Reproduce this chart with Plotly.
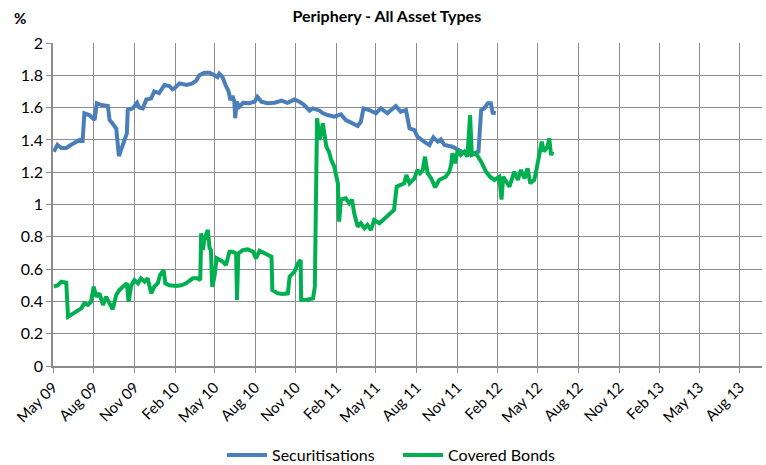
import plotly.graph_objects as go

# ---- data ----
sec_dates = ["2009-05-03","2009-05-09","2009-05-11","2009-05-20","2009-05-31","2009-06-11","2009-06-22","2009-06-30",
             "2009-07-07","2009-07-11","2009-07-22","2009-08-03","2009-08-08","2009-08-18","2009-09-02","2009-09-06",
             "2009-09-13","2009-09-21","2009-09-27","2009-10-02","2009-10-10","2009-10-15","2009-10-17","2009-10-28",
             "2009-11-07","2009-11-12","2009-11-20","2009-11-28","2009-12-09","2009-12-16","2009-12-27","2010-01-08",
             "2010-01-19","2010-01-26","2010-01-31","2010-02-11","2010-02-27","2010-03-12","2010-03-21","2010-03-28",
             "2010-04-08","2010-04-20","2010-05-01","2010-05-08","2010-05-12","2010-05-19","2010-05-26","2010-06-02",
             "2010-06-06","2010-06-11","2010-06-15","2010-06-17","2010-06-20","2010-06-26","2010-07-05","2010-07-19",
             "2010-07-31","2010-08-06","2010-08-15","2010-08-29","2010-09-14","2010-09-30","2010-10-13","2010-10-29",
             "2010-11-09","2010-11-20","2010-12-02","2010-12-10","2010-12-25","2011-01-01","2011-01-12","2011-01-27",
             "2011-02-11","2011-02-22","2011-03-06","2011-03-21","2011-03-28","2011-04-03","2011-04-16","2011-05-01",
             "2011-05-12","2011-05-27","2011-06-15","2011-06-26","2011-07-08","2011-07-16","2011-07-27","2011-08-03",
             "2011-08-18","2011-08-30","2011-09-08","2011-09-18","2011-09-25","2011-10-03","2011-10-21","2011-11-06",
             "2011-11-21","2011-12-06","2011-12-19","2011-12-25","2012-01-01","2012-01-09","2012-01-16","2012-01-20",
             "2012-01-27"]
sec_values = [1.327,1.358,1.37,1.35,1.35,1.37,1.385,1.40,
              1.395,1.565,1.554,1.523,1.627,1.616,1.61,1.523,
              1.50,1.47,1.30,1.337,1.39,1.44,1.585,1.595,
              1.63,1.60,1.595,1.65,1.657,1.70,1.69,1.74,
              1.734,1.713,1.72,1.75,1.74,1.75,1.767,1.80,
              1.816,1.816,1.80,1.788,1.81,1.79,1.74,1.70,
              1.647,1.672,1.637,1.534,1.636,1.605,1.63,1.627,
              1.637,1.667,1.637,1.627,1.63,1.643,1.63,1.651,
              1.637,1.616,1.581,1.595,1.581,1.565,1.554,1.544,
              1.558,1.523,1.507,1.486,1.513,1.595,1.585,1.565,
              1.595,1.565,1.61,1.575,1.585,1.472,1.461,1.42,
              1.389,1.368,1.416,1.389,1.403,1.368,1.358,1.337,
              1.313,1.313,1.327,1.585,1.595,1.627,1.627,1.568,
              1.565]

cov_dates = ["2009-05-03","2009-05-12","2009-05-20","2009-05-31","2009-06-04","2009-06-11","2009-06-22","2009-07-04",
             "2009-07-11","2009-07-19","2009-07-26","2009-08-01","2009-08-07","2009-08-14","2009-08-22","2009-08-29",
             "2009-09-06","2009-09-13","2009-09-21","2009-09-28","2009-10-06","2009-10-15","2009-10-19","2009-10-25",
             "2009-11-01","2009-11-09","2009-11-16","2009-11-24","2009-12-01","2009-12-09","2009-12-16","2009-12-24",
             "2009-12-29","2010-01-06","2010-01-10","2010-01-19","2010-02-03","2010-02-15","2010-02-26","2010-03-13",
             "2010-03-24","2010-03-30","2010-04-01","2010-04-05","2010-04-08","2010-04-12","2010-04-16","2010-04-20",
             "2010-04-23","2010-04-26","2010-05-01","2010-05-06","2010-05-12","2010-05-20","2010-05-27","2010-06-04",
             "2010-06-11","2010-06-19","2010-06-21","2010-06-24","2010-07-04","2010-07-15","2010-07-27","2010-08-03",
             "2010-08-11","2010-08-22","2010-09-02","2010-09-07","2010-09-09","2010-09-21","2010-10-02","2010-10-14",
             "2010-10-18","2010-10-29","2010-11-06","2010-11-12","2010-11-13","2010-11-24","2010-12-10","2010-12-14",
             "2010-12-19","2010-12-25","2011-01-01","2011-01-09","2011-01-15","2011-01-20","2011-01-27","2011-02-04",
             "2011-02-07","2011-02-11","2011-02-22","2011-03-02","2011-03-08","2011-03-13","2011-03-21","2011-03-28",
             "2011-04-05","2011-04-12","2011-04-20","2011-04-27","2011-05-09","2011-05-24","2011-06-04","2011-06-11",
             "2011-06-17","2011-06-26","2011-07-04","2011-07-09","2011-07-16","2011-07-27","2011-08-03","2011-08-09",
             "2011-08-15","2011-08-20","2011-08-26","2011-09-03","2011-09-12","2011-09-21","2011-10-06","2011-10-14",
             "2011-10-18","2011-10-21","2011-10-27","2011-11-02","2011-11-09","2011-11-17","2011-11-24","2011-11-30",
             "2011-12-04","2011-12-13","2011-12-25","2012-01-05","2012-01-14","2012-01-24","2012-02-04","2012-02-09",
             "2012-02-13","2012-02-27","2012-03-09","2012-03-17","2012-03-24","2012-04-01","2012-04-08","2012-04-14",
             "2012-04-23","2012-04-28","2012-05-04","2012-05-10","2012-05-15","2012-05-23","2012-05-27","2012-05-31",
             "2012-06-04"]
cov_values = [0.491,0.50,0.522,0.516,0.305,0.316,0.336,0.357,
              0.388,0.378,0.398,0.491,0.429,0.45,0.378,0.429,
              0.388,0.351,0.44,0.47,0.491,0.512,0.398,0.50,
              0.532,0.512,0.543,0.522,0.543,0.45,0.491,0.512,
              0.563,0.594,0.512,0.50,0.495,0.50,0.512,0.543,
              0.543,0.532,0.822,0.718,0.78,0.822,0.842,0.729,
              0.718,0.491,0.553,0.667,0.656,0.646,0.625,0.708,
              0.708,0.697,0.409,0.697,0.718,0.722,0.708,0.667,
              0.714,0.697,0.687,0.677,0.47,0.45,0.446,0.45,
              0.553,0.584,0.636,0.656,0.409,0.409,0.419,0.491,
              1.534,1.40,1.503,1.358,1.327,1.276,1.234,1.131,
              0.894,1.03,1.038,1.007,1.03,0.946,0.863,0.884,
              0.853,0.873,0.842,0.904,0.884,0.924,0.955,0.966,
              1.11,1.121,1.131,1.183,1.131,1.162,1.214,1.193,
              1.214,1.296,1.193,1.162,1.106,1.152,1.172,1.203,
              1.245,1.317,1.255,1.337,1.307,1.327,1.296,1.554,
              1.307,1.317,1.265,1.203,1.172,1.152,1.172,1.03,
              1.172,1.11,1.203,1.152,1.214,1.162,1.224,1.131,
              1.152,1.214,1.296,1.389,1.327,1.358,1.41,1.307,
              1.327]

tick_dates = ["2009-05-01","2009-08-01","2009-11-01","2010-02-01","2010-05-01","2010-08-01",
              "2010-11-01","2011-02-01","2011-05-01","2011-08-01","2011-11-01","2012-02-01",
              "2012-05-01","2012-08-01","2012-11-01","2013-02-01","2013-05-01","2013-08-01"]
tick_labels = ["May 09","Aug 09","Nov 09","Feb 10","May 10","Aug 10","Nov 10","Feb 11","May 11",
               "Aug 11","Nov 11","Feb 12","May 12","Aug 12","Nov 12","Feb 13","May 13","Aug 13"]
y_ticks = [0, 0.2, 0.4, 0.6, 0.8, 1, 1.2, 1.4, 1.6, 1.8, 2]
y_labels = ["0", "0.2", "0.4", "0.6", "0.8", "1", "1.2", "1.4", "1.6", "1.8", "2"]

FONT = "Lato"
GRID = "#8c8c8c"

fig = go.Figure()
fig.add_trace(go.Scatter(x=sec_dates, y=sec_values, mode="lines", name="Securitisations",
                         line=dict(color="#4a7ebb", width=4)))
fig.add_trace(go.Scatter(x=cov_dates, y=cov_values, mode="lines", name="Covered Bonds",
                         line=dict(color="#00b050", width=4)))

fig.update_layout(
    width=766, height=465,
    margin=dict(l=53, r=4, t=43, b=99),
    paper_bgcolor="white", plot_bgcolor="white",
    font=dict(family=FONT, color="#000000"),
    title=dict(text="<b>Periphery - All Asset Types</b>", x=0.505, xref="container", xanchor="center",
               y=1 - 16 / 465, yref="container", yanchor="middle", font=dict(size=16, family=FONT)),
    showlegend=True,
    legend=dict(orientation="h", xref="container", yref="container", x=222 / 766, xanchor="left",
                y=1 - 455 / 465, yanchor="middle", font=dict(size=16, family=FONT),
                itemwidth=40, entrywidth=121, entrywidthmode="pixels", bgcolor="rgba(0,0,0,0)"),
    xaxis=dict(type="date", range=["2009-05-01", "2013-09-20"],
               tickmode="array", tickvals=tick_dates, ticktext=tick_labels, tickangle=-45,
               tickfont=dict(size=15, family=FONT),
               showgrid=True, gridcolor=GRID, gridwidth=1,
               showline=True, linecolor=GRID, linewidth=1.5,
               ticks="outside", ticklen=5, tickcolor=GRID, zeroline=False),
    yaxis=dict(range=[0, 2], tickmode="array", tickvals=y_ticks, ticktext=y_labels,
               tickfont=dict(size=16, family=FONT),
               showgrid=True, gridcolor=GRID, gridwidth=1,
               showline=True, linecolor=GRID, linewidth=1.5,
               ticks="outside", ticklen=5, tickcolor=GRID, zeroline=False),
    annotations=[dict(text="<b>%</b>", x=-0.047, y=1.077, xref="paper", yref="paper",
                      showarrow=False, xanchor="center", yanchor="middle",
                      font=dict(size=15, family=FONT))],
)

fig.write_html("out.html", config={"displayModeBar": False},
               post_script="document.body.style.margin='0';")
